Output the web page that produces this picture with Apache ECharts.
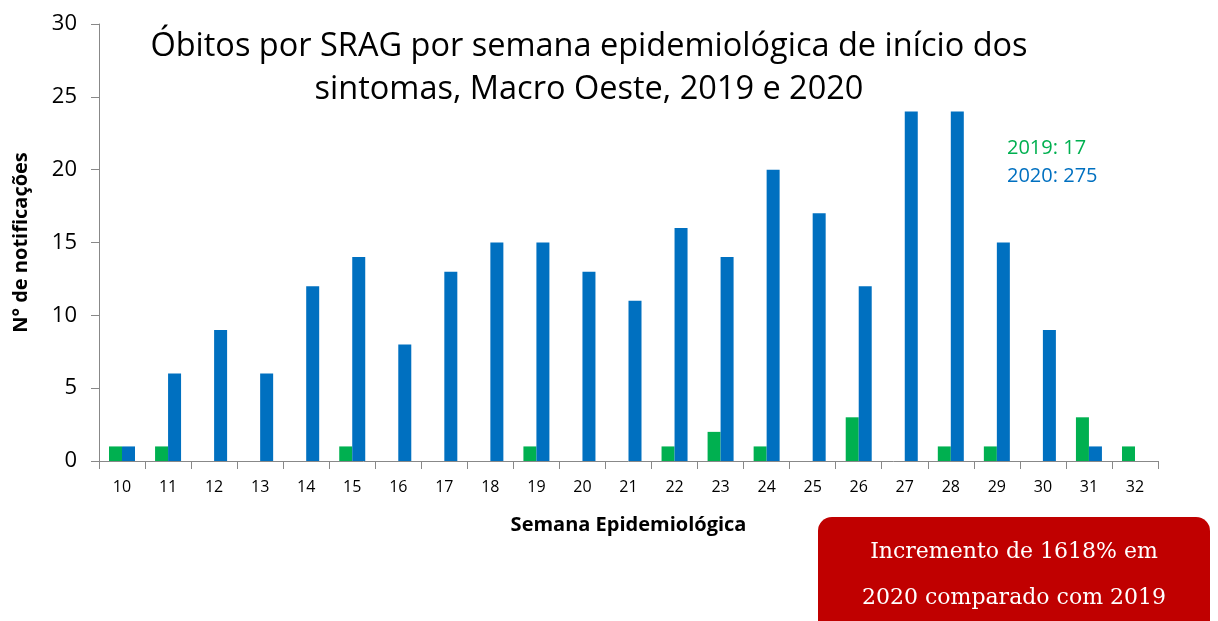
<!DOCTYPE html>
<html><head><meta charset="utf-8">
<script src="https://cdn.jsdelivr.net/npm/echarts@6/dist/echarts.min.js"></script>
<style>html,body{margin:0;padding:0;background:#fff}#c{width:1218px;height:621px}</style>
</head><body><div id="c"></div>
<script>
const weeks = ['10','11','12','13','14','15','16','17','18','19','20','21','22','23','24','25','26','27','28','29','30','31','32'];
const deaths2019 = [1,1,0,0,0,1,0,0,0,1,0,0,1,2,1,0,3,0,1,1,0,3,1];
const deaths2020 = [1,6,9,6,12,14,8,13,15,15,13,11,16,14,20,17,12,24,24,15,9,1,0];
const yTicks = [0,5,10,15,20,25,30];
const F = '"Open Sans","Noto Sans",sans-serif';
const chart = echarts.init(document.getElementById('c'));
chart.setOption({
  animation:false,
  grid:{left:99,right:60,top:24,bottom:160,containLabel:false},
  title:{text:'Óbitos por SRAG por semana epidemiológica de início dos\nsintomas, Macro Oeste, 2019 e 2020',left:584,top:20,textAlign:'center',
    textStyle:{fontFamily:F,fontSize:32.5,fontWeight:'normal',color:'#000',lineHeight:43}},
  xAxis:{type:'category',data:weeks,
    axisLine:{lineStyle:{color:'#888',width:1}},
    axisTick:{show:true,alignWithLabel:false,length:8,lineStyle:{color:'#888'}},
    axisLabel:{fontFamily:F,fontSize:16,color:'#000',margin:18},
    name:'Semana Epidemiológica',nameLocation:'middle',nameGap:54,
    nameTextStyle:{fontFamily:F,fontSize:20,fontWeight:'bold',color:'#000'}},
  yAxis:{type:'value',min:0,max:30,interval:5,
    splitLine:{show:false},
    axisLine:{show:true,lineStyle:{color:'#888'}},
    axisTick:{show:true,length:8,lineStyle:{color:'#888'}},
    axisLabel:{fontFamily:F,fontSize:22,color:'#000',margin:22,
      formatter:v=>yTicks.includes(v)?String(v):''},
    name:'N° de notificações',nameLocation:'middle',nameGap:68,nameRotate:90,
    nameTextStyle:{fontFamily:F,fontSize:20,fontWeight:'bold',color:'#000'}},
  series:[
    {name:'2019',type:'bar',data:deaths2019,barWidth:13,barGap:'0%',itemStyle:{color:'#00B050'}},
    {name:'2020',type:'bar',data:deaths2020,barWidth:13,barGap:'0%',itemStyle:{color:'#0070C0'}}
  ],
  graphic:[
    {type:'text',left:1007,top:138,style:{text:'2019: 17',fill:'#00B050',font:'20px '+F}},
    {type:'text',left:1007,top:166,style:{text:'2020: 275',fill:'#0070C0',font:'20px '+F}},
    {type:'rect',shape:{x:818,y:517,width:392,height:130,r:14},style:{fill:'#C00000'}},
    {type:'text',x:1014,y:552,style:{text:'Incremento de 1618% em',fill:'#fff',font:'22px "DejaVu Serif","Liberation Serif",serif',align:'center',verticalAlign:'middle'}},
    {type:'text',x:1014,y:598,style:{text:'2020 comparado com 2019',fill:'#fff',font:'22px "DejaVu Serif","Liberation Serif",serif',align:'center',verticalAlign:'middle'}}
  ]
});
</script></body></html>
